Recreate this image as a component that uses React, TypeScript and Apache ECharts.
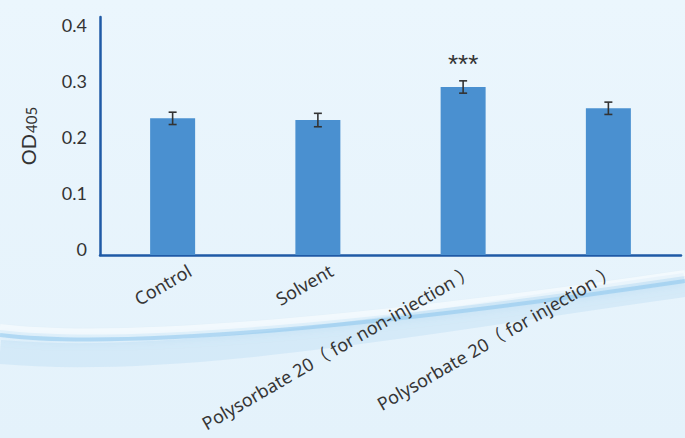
import React, { useEffect, useRef } from 'react';
import * as echarts from 'echarts';

const categories = [
  'Control',
  'Solvent',
  'Polysorbate 20（ for non-injection ）',
  'Polysorbate 20（ for injection ）',
];
const odValues = [0.244, 0.241, 0.3, 0.262];
const odErrors = [0.011, 0.012, 0.011, 0.011];
const significance = ['', '', '***', ''];
const yMin = 0;
const yMax = 0.425;
const yInterval = 0.1;

export default function App() {
  const ref = useRef<HTMLDivElement>(null);
  useEffect(() => {
    const chart = echarts.init(ref.current as HTMLDivElement, null, { renderer: 'svg' });
    const axisBlue = '#1f5aa6';
    const option: any = {
      animation: false,
      backgroundColor: {
        type: 'linear', x: 0, y: 0, x2: 0, y2: 1,
        colorStops: [
          { offset: 0, color: '#ebf6fd' },
          { offset: 1, color: '#e4f2fb' },
        ],
      },
      graphic: [
        {
          type: 'bezierCurve', z: -10, silent: true,
          shape: { x1: 0, y1: 352, cpx1: 180, cpy1: 368, cpx2: 420, cpy2: 322, x2: 685, y2: 285 },
          style: { stroke: 'rgba(205,230,247,0.7)', lineWidth: 24, fill: null },
        },
        {
          type: 'bezierCurve', z: -9, silent: true,
          shape: { x1: 0, y1: 335, cpx1: 120, cpy1: 350, cpx2: 380, cpy2: 326, x2: 685, y2: 281 },
          style: { stroke: 'rgba(125,190,235,0.45)', lineWidth: 4, fill: null, shadowBlur: 8, shadowColor: 'rgba(125,190,235,0.6)' },
        },
        {
          type: 'bezierCurve', z: -9, silent: true,
          shape: { x1: 0, y1: 327, cpx1: 120, cpy1: 342, cpx2: 380, cpy2: 318, x2: 685, y2: 273 },
          style: { stroke: 'rgba(255,255,255,0.5)', lineWidth: 6, fill: null },
        },
      ],
      grid: [
        { left: 100, right: 4, top: 17, bottom: 183, containLabel: false },
        { left: 119, right: -15, top: 17, bottom: 183, containLabel: false },
      ],
      xAxis: [
        {
          type: 'category',
          gridIndex: 0,
          data: categories,
          axisLine: { show: true, lineStyle: { color: axisBlue, width: 2.5 } },
          axisTick: { show: false },
          axisLabel: { show: false },
        },
        {
          type: 'category',
          gridIndex: 1,
          data: categories,
          z: 10,
          axisLine: { show: false },
          axisTick: { show: false },
          axisLabel: {
            interval: 0,
            rotate: 30,
            margin: 14,
            lineHeight: 16,
            fontSize: 18,
            color: '#363636',
            fontFamily: '"Noto Sans", "Noto Sans CJK SC"',
          },
        },
      ],
      yAxis: [
        {
          type: 'value',
          gridIndex: 0,
          min: yMin,
          max: yMax,
          interval: yInterval,
          name: '{a|OD}{b|405}',
          nameLocation: 'middle',
          nameRotate: 90,
          nameGap: 62,
          nameTextStyle: {
            rich: {
              a: { fontSize: 20, color: '#333333', fontFamily: 'Lato', verticalAlign: 'bottom' },
              b: { fontSize: 15, color: '#333333', fontFamily: 'Lato', verticalAlign: 'bottom', padding: [0, 0, 0, 1] },
            },
          },
          axisLine: { show: true, lineStyle: { color: axisBlue, width: 2.5 } },
          axisTick: { show: false },
          splitLine: { show: false },
          axisLabel: {
            showMaxLabel: false,
            margin: 13,
            verticalAlign: 'bottom',
            lineHeight: 12,
            fontSize: 18,
            color: '#333333',
            fontFamily: 'Lato',
            formatter: (v: number) => (v === 0 ? '0' : v.toFixed(1)),
          },
        },
        {
          type: 'value',
          gridIndex: 1,
          show: false,
          min: yMin,
          max: yMax,
          interval: yInterval,
        },
      ],
      series: [
        {
          type: 'bar',
          xAxisIndex: 0,
          yAxisIndex: 0,
          data: odValues,
          barWidth: 45,
          itemStyle: { color: '#4a90d0' },
          z: 2,
        },
        {
          type: 'custom',
          xAxisIndex: 0,
          yAxisIndex: 0,
          z: 5,
          data: odValues.map((v, i) => [i, v, odErrors[i]]),
          encode: { x: 0, y: 1 },
          renderItem: (params: any, api: any) => {
            const i = api.value(0);
            const v = api.value(1);
            const e = api.value(2);
            const top = api.coord([i, v + e]);
            const bot = api.coord([i, v - e]);
            const hw = 4;
            const st = { stroke: '#333333', lineWidth: 1.6 };
            const children: any[] = [
              { type: 'line', shape: { x1: top[0], y1: top[1], x2: bot[0], y2: bot[1] }, style: st },
              { type: 'line', shape: { x1: top[0] - hw, y1: top[1], x2: top[0] + hw, y2: top[1] }, style: st },
              { type: 'line', shape: { x1: bot[0] - hw, y1: bot[1], x2: bot[0] + hw, y2: bot[1] }, style: st },
            ];
            const sig = significance[params.dataIndex];
            if (sig) {
              children.push({
                type: 'text',
                style: {
                  text: sig,
                  x: top[0],
                  y: top[1] - 17,
                  align: 'center',
                  verticalAlign: 'middle',
                  fontSize: 26,
                  fontFamily: 'Liberation Sans',
                  fill: '#333333',
                },
              });
            }
            return { type: 'group', children };
          },
        },
      ],
    };
    chart.setOption(option);
    return () => chart.dispose();
  }, []);
  return (
    <div
      ref={ref}
      style={{ position: 'absolute', left: 0, top: 0, width: 685, height: 438, overflow: 'hidden' }}
    />
  );
}
